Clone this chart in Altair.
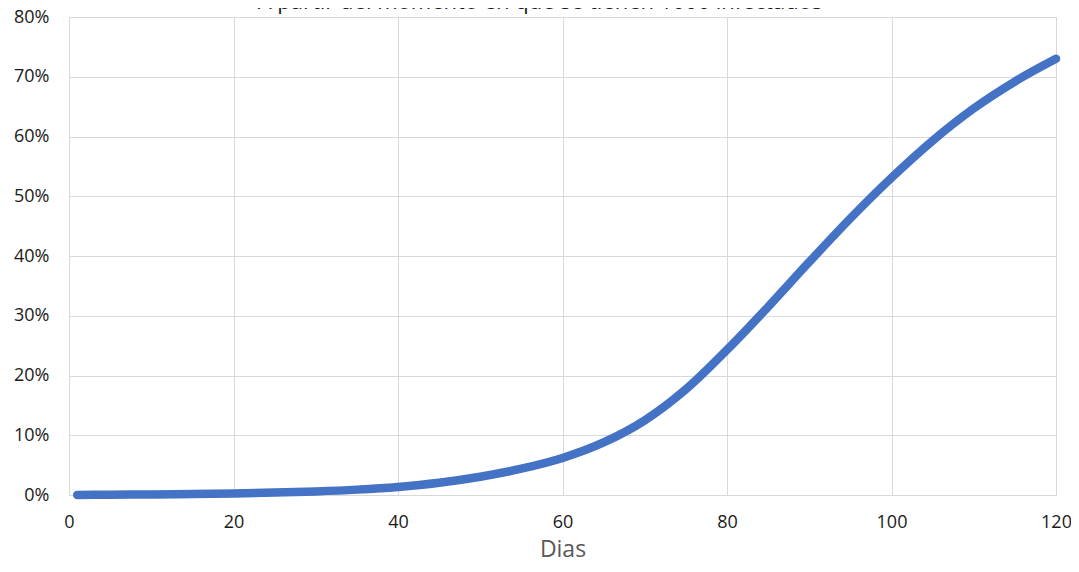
import altair as alt
import pandas as pd

days = [1, 5, 10, 15, 20, 25, 30, 35, 40, 45, 50, 55, 60, 65, 70, 75, 80, 85, 90, 95, 100, 105, 110, 115, 120]
pct = [0.0, 0.0005, 0.001, 0.0016, 0.0025, 0.004, 0.006, 0.009, 0.0135, 0.0205, 0.0305, 0.044, 0.062,
       0.088, 0.125, 0.177, 0.243, 0.315, 0.390, 0.463, 0.531, 0.593, 0.647, 0.692, 0.730]
title_text = ["A partir del momento en que se tienen 1000 infectados"]

df = pd.DataFrame({"dia": days, "pct": pct})
tdf = pd.DataFrame({"t": title_text})

FONT = "Open Sans"

line = alt.Chart(df).mark_line(
    color="#4472C4", strokeWidth=8.5, strokeCap="round", interpolate="monotone"
).encode(
    x=alt.X("dia:Q", scale=alt.Scale(domain=[0, 120], nice=False),
            axis=alt.Axis(values=[0, 20, 40, 60, 80, 100, 120], title="Dias",
                          titleFontSize=23, titleColor="#595959", titleFontWeight="normal",
                          titlePadding=7, labelFontSize=18, labelColor="#1a1a1a",
                          labelPadding=18, labelFlush=False, ticks=False, domainColor="#d9d9d9",
                          gridColor="#d9d9d9", labelFont=FONT, titleFont=FONT)),
    y=alt.Y("pct:Q", scale=alt.Scale(domain=[0, 0.8], nice=False),
            axis=alt.Axis(values=[0, 0.1, 0.2, 0.3, 0.4, 0.5, 0.6, 0.7, 0.8], format=".0%",
                          title=None, labelFontSize=18, labelColor="#1a1a1a", labelPadding=20,
                          labelFlush=False, ticks=False, domainColor="#d9d9d9", gridColor="#d9d9d9",
                          labelFont=FONT)),
)

title = alt.Chart(tdf).mark_text(
    fontSize=22, font=FONT, color="#1a1a1a", baseline="alphabetic", align="center"
).encode(
    text="t:N", x=alt.value(471), y=alt.value(-8)
)

chart = alt.layer(line, title).properties(
    width=987, height=478, padding={"left": 61, "top": 9, "right": 15, "bottom": 69},
    autosize=alt.AutoSizeParams(type="none")
).configure_view(stroke="#d9d9d9").configure(background="white")

chart.save("out.html", embed_options={"renderer": "svg", "actions": False})
